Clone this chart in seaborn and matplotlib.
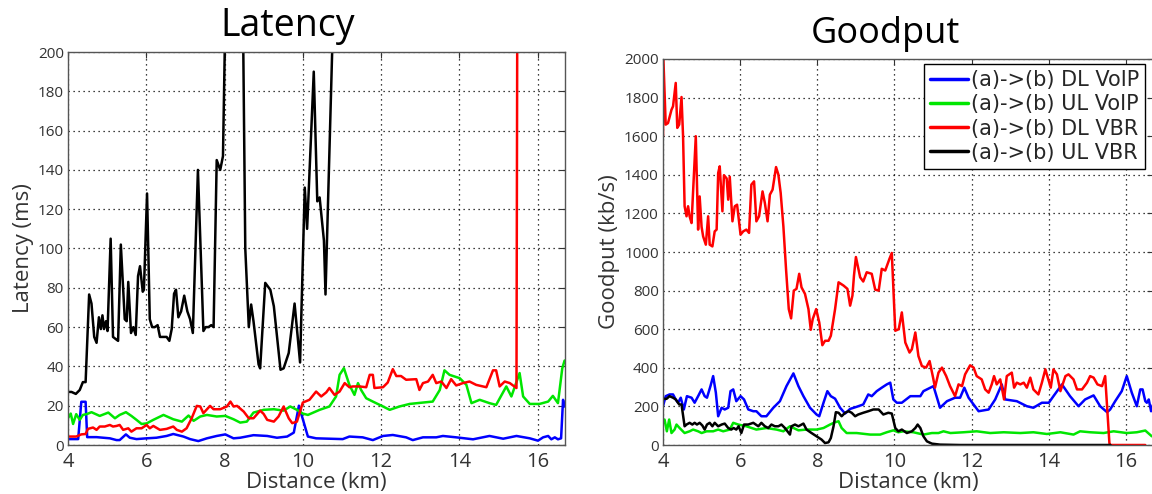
import matplotlib
matplotlib.use("Agg")
import matplotlib.pyplot as plt
import seaborn as sns
import pandas as pd

# ---------------- Latency data (ms) ----------------
lat_dl_voip_x = [4.0, 4.26, 4.34, 4.45, 4.49, 4.73, 5.07, 5.24, 5.32, 5.48, 5.58, 5.75, 6.01, 6.26, 6.52,
                 6.69, 6.95, 7.12, 7.33, 7.55, 7.80, 8.02, 8.23, 8.40, 8.74, 9.09, 9.34, 9.60, 9.77, 9.90,
                 10.13, 10.34, 11.02, 11.19, 11.53, 11.79, 12.05, 12.30, 12.64, 12.81, 13.07, 13.41, 13.58,
                 13.92, 14.35, 14.77, 15.12, 15.46, 15.80, 16.01, 16.14, 16.27, 16.35, 16.44, 16.52, 16.60,
                 16.65, 16.69]
lat_dl_voip = [3, 3, 22, 22, 4, 4, 3.4, 2.5, 2.5, 5.4, 3.7, 3, 3.4, 3.7, 4.6,
               5.6, 4.3, 3, 2, 3.4, 4.6, 5.4, 3.4, 3.7, 5, 4.6, 3.7, 4.3, 6.3, 20,
               4.3, 3.4, 3, 4.3, 3.9, 2.5, 4.6, 5.1, 3.9, 2.5, 3.9, 3.9, 4.6,
               3.9, 2.9, 4.6, 3.2, 4.6, 3.4, 2.2, 3.9, 4.6, 2.9, 3.9, 2.9, 3.4,
               23, 19.6]

lat_ul_voip_x = [4.0, 4.07, 4.13, 4.21, 4.30, 4.38, 4.49, 4.60, 4.81, 5.03, 5.20, 5.32, 5.48, 5.62, 5.75,
                 5.88, 6.01, 6.18, 6.44, 6.69, 6.91, 7.08, 7.21, 7.38, 7.55, 7.80, 8.02, 8.23, 8.40, 8.57,
                 8.74, 9.0, 9.26, 9.51, 9.68, 9.85, 10.0, 10.13, 10.43, 10.68, 10.85, 10.94, 11.05, 11.19,
                 11.32, 11.41, 11.49, 11.62, 11.79, 12.05, 12.22, 12.47, 12.73, 13.07, 13.32, 13.50, 13.62,
                 13.75, 14.01, 14.18, 14.31, 14.52, 14.77, 14.94, 15.20, 15.33, 15.54, 15.63, 15.80, 16.05,
                 16.27, 16.39, 16.52, 16.63, 16.69]
lat_ul_voip = [13.6, 16, 10.7, 15.7, 12.8, 15.3, 15.8, 16.7, 14.8, 16.5, 13.6, 15.3, 16.7, 14.8, 12.8,
               10.7, 11, 12.8, 15.3, 13.1, 11.9, 15, 12.3, 14.5, 15.3, 14.5, 14.8, 13.1, 11.4, 11.9,
               16.5, 17.9, 18.2, 17.5, 19.6, 17.9, 16, 15.3, 17.9, 19.6, 24.7, 35.7, 39.1, 30.6,
               25.5, 31.5, 28, 23.8, 22.1, 19.6, 17.9, 19.6, 20.9, 21.6, 22.1, 28, 38,
               35.7, 34, 30.6, 21.3, 23, 21.3, 20.4, 29.8, 24.7, 36.6, 24.7, 20.9, 20.9,
               22.1, 25, 21.3, 39, 43]

lat_dl_vbr_x = [4.0, 4.21, 4.34, 4.45, 4.51, 4.64, 4.73, 4.81, 4.94, 5.07, 5.15, 5.24, 5.32, 5.41, 5.54,
                5.62, 5.75, 5.88, 6.01, 6.09, 6.18, 6.35, 6.52, 6.69, 6.78, 6.91, 7.03, 7.16, 7.29, 7.38,
                7.46, 7.63, 7.72, 7.89, 8.06, 8.15, 8.23, 8.32, 8.49, 8.62, 8.74, 8.91, 9.0, 9.09, 9.26,
                9.38, 9.51, 9.64, 9.73, 9.85, 10.0, 10.17, 10.34, 10.47, 10.6, 10.68, 10.81, 10.94, 11.07,
                11.19, 11.28, 11.45, 11.62, 11.71, 11.79, 11.83, 12.05, 12.17, 12.30, 12.39, 12.51, 12.64,
                12.90, 12.98, 13.07, 13.20, 13.32, 13.41, 13.54, 13.67, 13.79, 13.92, 14.09, 14.26, 14.43,
                14.69, 14.86, 14.94, 15.03, 15.16, 15.29, 15.46, 15.50]
lat_dl_vbr = [4.3, 4.3, 5.4, 5.6, 8.2, 8.9, 7.7, 9.4, 9.4, 10.2, 9.4, 9.7, 10.2, 7.7, 8.5,
              6.8, 8.5, 8.5, 10.2, 8.5, 9.7, 7.7, 8.2, 9.4, 7.7, 6.8, 8.5, 13.6, 19.9, 19.6,
              16.2, 19.9, 18.2, 18.2, 19.6, 22.1, 19.6, 19.9, 17, 13.6, 13.6, 17.5, 15.8, 12.8, 11.9,
              14.5, 19.6, 13.6, 11.1, 11.9, 21.6, 23, 27.2, 24.7, 26.8, 29, 25.5, 27.2, 31.5,
              29.4, 29.8, 29.8, 29.4, 35.7, 35.7, 29, 29.4, 31.8, 38.6, 35.1, 35.1, 33.2,
              33.5, 28, 31.5, 32.3, 35.7, 31.5, 32.3, 29, 33.5, 30.3, 31.5, 32.3, 30.6,
              29.4, 38, 38, 29.8, 32.3, 31.5, 29, 400]

lat_ul_vbr_x = [4.0, 4.09, 4.20, 4.30, 4.38, 4.45, 4.54, 4.60, 4.67, 4.73, 4.79, 4.84, 4.88, 4.92, 4.97,
                5.01, 5.09, 5.15, 5.24, 5.28, 5.35, 5.45, 5.50, 5.54, 5.61, 5.67, 5.73, 5.79, 5.84, 5.91,
                5.94, 6.02, 6.09, 6.15, 6.22, 6.29, 6.35, 6.44, 6.52, 6.59, 6.65, 6.71, 6.76, 6.82, 6.89,
                6.97, 7.05, 7.12, 7.19, 7.32, 7.46, 7.52, 7.59, 7.66, 7.72, 7.80, 7.89, 7.96, 8.03, 8.20,
                8.45, 8.53, 8.62, 8.68, 8.74, 8.87, 8.91, 9.04, 9.17, 9.26, 9.43, 9.51, 9.64, 9.79, 9.93,
                10.05, 10.11, 10.28, 10.37, 10.43, 10.54, 10.58, 10.75, 10.85]
lat_ul_vbr = [27, 27, 26, 28, 32, 32, 76.6, 72, 55, 52, 65, 59, 66, 59, 63,
              58, 105, 55, 53.6, 53, 102, 64, 63, 83, 57, 60, 56, 86, 91, 78,
              79, 128, 64, 60, 60, 61, 55, 55, 55, 53, 59, 77, 79, 65, 68,
              76, 68, 64, 57, 140, 58, 60, 60, 61, 60, 145, 140, 147, 230, 320,
              260, 100, 60, 71.5, 63, 41, 39, 82.5, 79, 70.6, 38.3, 39, 46.8, 72, 42,
              131, 110, 190, 124, 126, 104, 76.6, 200, 300]

# ---------------- Goodput data (kb/s) ----------------
gp_dl_voip_x = [4.0, 4.07, 4.17, 4.26, 4.33, 4.39, 4.46, 4.54, 4.62, 4.74, 4.82, 4.91, 5.0, 5.08, 5.14,
                5.23, 5.30, 5.37, 5.43, 5.52, 5.6, 5.69, 5.75, 5.82, 5.9, 6.01, 6.1, 6.21, 6.34, 6.42,
                6.55, 6.68, 6.86, 7.03, 7.2, 7.38, 7.51, 7.64, 7.81, 7.98, 8.05, 8.16, 8.26, 8.35, 8.46,
                8.59, 8.72, 8.85, 9.02, 9.19, 9.32, 9.41, 9.54, 9.67, 9.80, 9.89, 9.97, 10.06, 10.19,
                10.41, 10.67, 10.75, 11.01, 11.18, 11.36, 11.57, 11.7, 11.81, 11.92, 12.05, 12.18, 12.44,
                12.61, 12.78, 12.87, 13.17, 13.43, 13.6, 13.82, 14.0, 14.12, 14.34, 14.55, 14.77, 14.94,
                15.16, 15.33, 15.51, 15.59, 15.72, 15.89, 16.02, 16.15, 16.28, 16.37, 16.43, 16.5, 16.54,
                16.59, 16.65, 16.7]
gp_dl_voip = [201, 253, 262, 262, 236, 219, 245, 184, 253, 245, 219, 253, 288, 253, 245,
              305, 357, 271, 149, 193, 184, 193, 279, 288, 227, 253, 236, 184, 175, 175,
              149, 149, 193, 227, 305, 371, 305, 253, 193, 158, 149, 219, 279, 253, 240,
              193, 163, 187, 198, 210, 262, 253, 279, 297, 314, 323, 236, 219, 219,
              253, 253, 279, 305, 193, 227, 245, 245, 297, 245, 210, 175, 184,
              236, 314, 236, 227, 201, 193, 219, 219, 253, 314, 253, 201, 236,
              257, 201, 170, 184, 227, 279, 357, 271, 201, 288, 288, 227, 219,
              236, 175, 210]

gp_ul_voip_x = [4.0, 4.04, 4.1, 4.16, 4.22, 4.3, 4.35, 4.43, 4.56, 4.69, 4.78, 4.91, 5.0, 5.13, 5.3,
                5.43, 5.56, 5.73, 5.82, 5.95, 6.16, 6.42, 6.68, 6.94, 7.12, 7.29, 7.51, 7.72, 7.98, 8.16,
                8.33, 8.46, 8.55, 8.63, 8.76, 9.02, 9.37, 9.63, 9.8, 9.97, 10.1, 10.23, 10.49, 10.75,
                10.97, 11.14, 11.27, 11.45, 11.79, 12.13, 12.48, 12.83, 13.26, 13.6, 13.95, 14.3, 14.64,
                14.81, 15.07, 15.42, 15.68, 16.02, 16.28, 16.5, 16.67]
gp_ul_voip = [115, 132, 71, 132, 62, 80, 106, 88, 62, 71, 80, 71, 62, 71, 71,
              80, 71, 80, 115, 106, 97, 80, 88, 80, 71, 97, 76, 80, 80, 88,
              106, 118, 123, 88, 62, 62, 54, 54, 66, 76, 66, 71, 66, 54,
              62, 62, 71, 62, 66, 71, 62, 66, 62, 66, 57, 66, 54,
              71, 66, 62, 71, 62, 66, 75, 45]

gp_dl_vbr_x = [4.0, 4.01, 4.07, 4.13, 4.22, 4.26, 4.33, 4.37, 4.42, 4.48, 4.52, 4.56, 4.61, 4.65, 4.69,
               4.74, 4.85, 4.91, 4.95, 5.0, 5.04, 5.11, 5.17, 5.21, 5.28, 5.34, 5.39, 5.43, 5.47, 5.54,
               5.58, 5.65, 5.69, 5.73, 5.80, 5.86, 5.92, 6.01, 6.08, 6.16, 6.23, 6.29, 6.36, 6.42, 6.49,
               6.58, 6.64, 6.71, 6.77, 6.84, 6.93, 6.99, 7.05, 7.12, 7.19, 7.26, 7.32, 7.39, 7.46, 7.53,
               7.59, 7.68, 7.77, 7.83, 7.88, 7.97, 8.05, 8.13, 8.2, 8.29, 8.35, 8.46, 8.55, 8.68, 8.78,
               8.85, 8.91, 8.95, 9.0, 9.11, 9.19, 9.28, 9.41, 9.50, 9.59, 9.67, 9.76, 9.87, 9.93, 10.02,
               10.11, 10.19, 10.28, 10.39, 10.45, 10.54, 10.62, 10.71, 10.82, 10.91, 11.0, 11.05, 11.14,
               11.23, 11.34, 11.44, 11.57, 11.66, 11.75, 11.83, 11.96, 12.05, 12.13, 12.26, 12.35, 12.44,
               12.52, 12.58, 12.65, 12.74, 12.84, 12.91, 13.04, 13.1, 13.17, 13.26, 13.35, 13.43, 13.52,
               13.6, 13.73, 13.82, 13.91, 14.0, 14.05, 14.12, 14.21, 14.3, 14.43, 14.51, 14.64, 14.73,
               14.86, 14.99, 15.07, 15.16, 15.26, 15.38, 15.46, 15.57, 15.59, 16.5]
gp_dl_vbr = [1600, 2000, 1660, 1668, 1737, 1755, 1876, 1643, 1660, 1803, 1600, 1237, 1185, 1237, 1185,
             1150, 1600, 1116, 1288, 1130, 1081, 1038, 1185, 1038, 1029, 1107, 1116, 1409, 1444, 1211,
             1398, 1381, 1271, 1390, 1159, 1237, 1245, 1090, 1107, 1116, 1099, 1349, 1366, 1159, 1185,
             1314, 1254, 1159, 1297, 1323, 1440, 1401, 1306, 1133, 908, 704, 656, 800, 809, 887,
             817, 783, 704, 597, 652, 704, 635, 517, 540, 540, 566, 704, 843, 826, 809,
             722, 774, 878, 974, 869, 847, 895, 887, 805, 800, 913, 904, 965, 995, 592,
             600, 687, 531, 479, 496, 583, 461, 409, 401, 435, 349, 297, 375,
             401, 357, 305, 253, 314, 305, 366, 413, 401, 357, 340, 288, 271,
             314, 357, 314, 340, 236, 357, 375, 297, 323, 314, 323, 297, 349,
             288, 262, 323, 392, 331, 297, 392, 366, 279, 357, 366, 340, 288,
             288, 323, 357, 349, 314, 305, 357, 10, 0, 0]

gp_ul_vbr_x = [4.0, 4.09, 4.17, 4.26, 4.33, 4.42, 4.48, 4.56, 4.61, 4.69, 4.76, 4.82, 4.88, 4.95, 5.02,
               5.08, 5.14, 5.21, 5.28, 5.34, 5.43, 5.52, 5.6, 5.69, 5.77, 5.83, 5.9, 5.96, 6.03, 6.1,
               6.21, 6.34, 6.47, 6.55, 6.64, 6.73, 6.81, 6.9, 6.99, 7.07, 7.16, 7.29, 7.33, 7.42, 7.51,
               7.64, 7.72, 7.85, 7.98, 8.11, 8.2, 8.29, 8.35, 8.42, 8.48, 8.55, 8.63, 8.72, 8.81, 8.89,
               8.98, 9.06, 9.19, 9.32, 9.45, 9.59, 9.71, 9.84, 9.93, 10.02, 10.1, 10.19, 10.32, 10.45,
               10.54, 10.6, 10.67, 10.75, 10.84, 10.97, 11.18, 11.7, 15.6]
gp_ul_vbr = [239, 239, 253, 245, 236, 210, 210, 97, 106, 115, 106, 115, 106, 115, 101,
             80, 106, 115, 97, 115, 97, 106, 111, 88, 80, 88, 80, 97, 62, 106,
             106, 115, 97, 115, 97, 88, 106, 97, 97, 106, 88, 54, 97, 106, 97,
             111, 80, 62, 45, 28, 10, 14, 36, 97, 170, 167, 149, 167, 175, 167,
             149, 158, 167, 175, 184, 184, 158, 167, 163, 88, 71, 80, 62, 71,
             88, 106, 88, 45, 19, 7, 2, 0, 0]

series_names = ["(a)->(b) DL VoIP", "(a)->(b) UL VoIP", "(a)->(b) DL VBR", "(a)->(b) UL VBR"]
series_colors = ["#0000ff", "#00e600", "#ff0000", "#000000"]
palette = dict(zip(series_names, series_colors))

x_ticks = [4, 6, 8, 10, 12, 14, 16]
lat_ticks = [0, 20, 40, 60, 80, 100, 120, 140, 160, 180, 200]
gp_ticks = [0, 200, 400, 600, 800, 1000, 1200, 1400, 1600, 1800, 2000]


def long_df(xs, ys):
    frames = []
    for name, x, y in zip(series_names, xs, ys):
        frames.append(pd.DataFrame({"dist": x, "val": y, "series": name}))
    return pd.concat(frames, ignore_index=True)


lat_df = long_df([lat_dl_voip_x, lat_ul_voip_x, lat_dl_vbr_x, lat_ul_vbr_x],
                 [lat_dl_voip, lat_ul_voip, lat_dl_vbr, lat_ul_vbr])
gp_df = long_df([gp_dl_voip_x, gp_ul_voip_x, gp_dl_vbr_x, gp_ul_vbr_x],
                [gp_dl_voip, gp_ul_voip, gp_dl_vbr, gp_ul_vbr])

sns.set_theme(style="white")
plt.rcParams["font.family"] = ["Open Sans", "DejaVu Sans"]

fig = plt.figure(figsize=(11.52, 4.94), dpi=100)
W, H = 1152.0, 494.0
ax1 = fig.add_axes([68 / W, 1 - 445 / H, (565 - 68) / W, (445 - 52) / H])
ax2 = fig.add_axes([663 / W, 1 - 445 / H, (1153 - 663) / W, (445 - 59) / H])

for ax, df in ((ax1, lat_df), (ax2, gp_df)):
    sns.lineplot(data=df, x="dist", y="val", hue="series", hue_order=series_names,
                 palette=palette, estimator=None, sort=False, linewidth=1.8,
                 legend=False, ax=ax)

ax1.set_xlim(4, 16.7)
ax1.set_ylim(0, 200)
ax2.set_xlim(4, 16.7)
ax2.set_ylim(0, 2000)

for ax, yt in ((ax1, lat_ticks), (ax2, gp_ticks)):
    ax.set_xticks(x_ticks)
    ax.set_yticks(yt)
    ax.grid(True, linestyle=(0, (1, 3)), color="black", linewidth=0.9)
    ax.tick_params(axis="both", direction="in", top=True, right=True, length=4,
                   color="#333333", width=0.8)
    ax.tick_params(axis="x", labelsize=14.5, pad=5, labelcolor="#333333")
    ax.tick_params(axis="y", labelsize=11, pad=3, labelcolor="#333333")
    for s in ax.spines.values():
        s.set_color("#555555")
        s.set_linewidth(1.0)
    ax.set_xlabel("Distance (km)", fontsize=16, color="#333333", labelpad=0)

ax1.set_ylabel("Latency (ms)", fontsize=16, color="#333333", labelpad=3)
ax2.set_ylabel("Goodput (kb/s)", fontsize=16, color="#333333", labelpad=3)
fig.text(288 / W, 1 - 36 / H, "Latency", fontsize=27, ha="center", va="baseline", color="black")
fig.text(885 / W, 1 - 43 / H, "Goodput", fontsize=26, ha="center", va="baseline", color="black")

handles = ax2.get_lines()[:4]
leg = ax2.legend(handles, series_names, loc="upper right", bbox_to_anchor=(0.984, 0.987),
                 borderaxespad=0.0, frameon=True, fancybox=False,
                 handlelength=1.8, handletextpad=0.15, labelspacing=0.2, borderpad=0.3,
                 prop={"family": "DejaVu Sans", "size": 15})
leg.get_frame().set_edgecolor("black")
leg.get_frame().set_linewidth(1.0)
leg.get_frame().set_alpha(1.0)
for lh in leg.get_lines():
    lh.set_linewidth(2.5)

fig.savefig("out.png", dpi=100)
